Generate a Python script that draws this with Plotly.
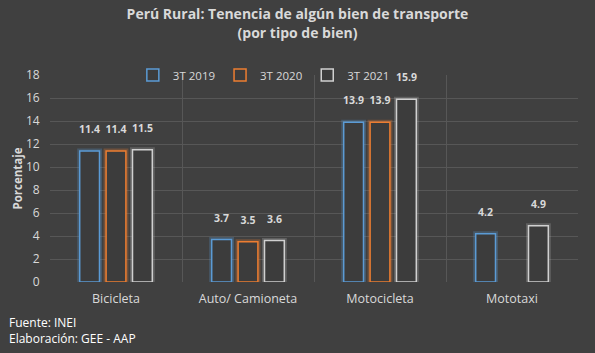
import plotly.graph_objects as go

categories = ["Bicicleta", "Auto/ Camioneta", "Motocicleta", "Mototaxi"]
series_names = ["3T 2019", "3T 2020", "3T 2021"]
v2019 = [11.4, 3.7, 13.9, 4.2]
v2020 = [11.4, 3.5, 13.9, None]
v2021 = [11.5, 3.6, 15.9, 4.9]
colors = ["#5B9BD5", "#ED7D31", "#D0D0D0"]
glow = ["rgba(91,155,213,0.28)", "rgba(237,125,49,0.28)", "rgba(210,210,210,0.22)"]

BG = "#404040"
TXT = "#D9D9D9"
FONT = "Open Sans"

fig = go.Figure()
for name, vals, c, g in zip(series_names, [v2019, v2020, v2021], colors, glow):
    # glow layer
    fig.add_trace(go.Bar(
        x=categories, y=vals, offsetgroup=name, showlegend=False, hoverinfo="skip",
        marker=dict(color="rgba(0,0,0,0)", line=dict(color=g, width=5)),
    ))
    fig.add_trace(go.Bar(
        x=categories, y=vals, name=name, offsetgroup=name,
        marker=dict(color="rgba(60,60,60,1)", line=dict(color=c, width=1.5)),
        text=[None if v is None else f"<b>{v:.1f}</b><br><span style='font-size:4px'> </span>" for v in vals],
        textposition="outside", cliponaxis=False, constraintext="none",
        textfont=dict(color=TXT, size=10.5, family=FONT),
    ))

fig.update_layout(
    width=595, height=353,
    paper_bgcolor=BG, plot_bgcolor=BG,
    margin=dict(l=50, r=17, t=75, b=71),
    barmode="group", bargap=0.4, bargroupgap=0.25,
    font=dict(family=FONT, color=TXT, size=12),
    title=dict(
        text="<b>Perú Rural: Tenencia de algún bien de transporte<br>(por tipo de bien)</b>",
        x=0.5, xanchor="center", y=0.945, yanchor="top",
        font=dict(size=14, color=TXT, family=FONT),
    ),
    legend=dict(
        orientation="h", x=0.405, xanchor="center", y=1.0, yanchor="middle",
        bgcolor="rgba(0,0,0,0)", font=dict(size=11.5, color=TXT),
        traceorder="normal", itemwidth=30,
    ),
    showlegend=True,
)
fig.update_yaxes(
    range=[0, 18], dtick=2, showgrid=True, gridcolor="#575757", gridwidth=1,
    zeroline=False, showline=False, tickfont=dict(size=12, color=TXT),
    ticksuffix="   ",
    title=dict(text="<b>Porcentaje</b>", font=dict(size=11.5, color=TXT), standoff=0),
)
fig.update_xaxes(
    tickson="boundaries", showgrid=True, gridcolor="#575757", gridwidth=1,
    showline=False, ticks="", tickfont=dict(size=12.5, color=TXT),
    ticklabelstandoff=7,
)
fig.add_annotation(
    text="Fuente: INEI<br>Elaboración: GEE - AAP", xref="paper", yref="paper",
    x=-43/528, y=-0.145, xanchor="left", yanchor="top", align="left", showarrow=False,
    font=dict(size=12, color="#FFFFFF", family=FONT),
)

fig.write_html("out.html")
